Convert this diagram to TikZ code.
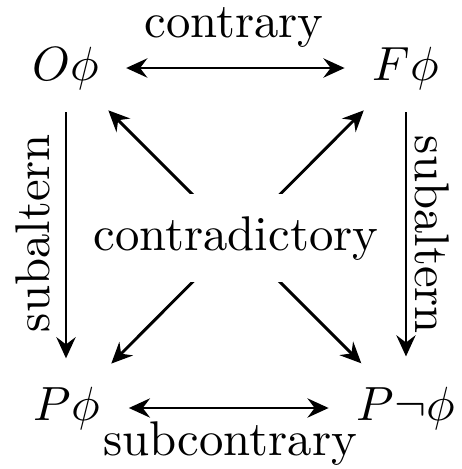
\documentclass[tikz,border=0pt]{standalone}
\usetikzlibrary{arrows.meta}
\begin{document}
\begin{tikzpicture}[x=0.2083pt,y=-0.2083pt,
  every node/.style={inner sep=0pt, font=\fontsize{10.15}{12}\selectfont},
  corner/.style={anchor=base},
  tip/.tip={Stealth[length=4.4pt,width=4pt,inset=1.5pt]},
  arr/.style={line width=0.6pt,tip-tip},
  darr/.style={line width=0.6pt,-tip}]
\useasboundingbox (0,0) rectangle (462,469);
\node[corner] (O) at (66,80) {$O\phi$};
\node[corner] (F) at (406,80) {$F\phi$};
\node[corner] (P) at (67,420) {$P\phi$};
\node[corner] (N) at (406,420) {$P\neg\phi$};
% horizontal
\draw[arr, shorten <=5.4pt, shorten >=5.7pt] (O) -- (F);
\draw[arr, shorten <=5.8pt, shorten >=5.7pt] (P) -- (N);
% vertical
\draw[darr, shorten <=4.6pt, shorten >=5.7pt] (O.south) -- (O.south |- P.north);
\draw[darr, shorten <=4.6pt, shorten >=6.1pt] (F.south -| N.north) -- (N.north);
% diagonals
\draw[arr, shorten <=5.9pt, shorten >=6.6pt] (O) -- (N);
\draw[arr, shorten <=5.9pt, shorten >=6.5pt] (F) -- (P);
\path (O) -- (N) node[midway, fill=white, inner xsep=2pt, inner ysep=4.8pt,
  text height=6.94pt, text depth=1.94pt] (contra) {contradictory};
% labels
\node[anchor=base] (lcontrary) at (234,37) {contrary};
\node[anchor=base] (lsub) at (230,455) {subcontrary};
\node[anchor=base, rotate=90] (lsubl) at (50,233) {subaltern};
\node[anchor=base, rotate=-90] (lsubr) at (416,235) {subaltern};
\end{tikzpicture}
\end{document}
